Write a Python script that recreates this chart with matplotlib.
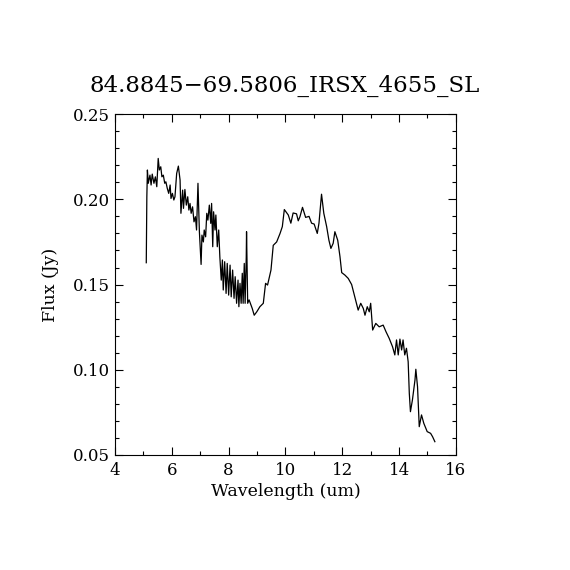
import numpy as np
import matplotlib
matplotlib.use("Agg")
import matplotlib.pyplot as plt
from matplotlib.ticker import MultipleLocator

# spectrum
wave = [5.10, 5.12, 5.14, 5.17, 5.23, 5.27, 5.31, 5.37, 5.42, 5.47,
        5.52, 5.56, 5.61, 5.65, 5.70, 5.75, 5.79, 5.84, 5.89, 5.94,
        5.97, 6.02, 6.07, 6.11, 6.17, 6.23, 6.29, 6.32, 6.38, 6.41,
        6.46, 6.51, 6.56, 6.60, 6.64, 6.68, 6.73, 6.78, 6.83, 6.87,
        6.92, 6.97, 7.03, 7.06, 7.11, 7.14, 7.19, 7.23, 7.27, 7.32,
        7.37, 7.40, 7.44, 7.47, 7.52, 7.55, 7.60, 7.65, 7.69, 7.74,
        7.78, 7.81, 7.86, 7.91, 7.95, 8.00, 8.05, 8.09, 8.14, 8.19,
        8.23, 8.28, 8.33, 8.36, 8.40, 8.44, 8.48, 8.51, 8.55, 8.58,
        8.62, 8.63, 8.67, 8.72, 8.83, 8.90, 8.99, 9.10, 9.22, 9.30,
        9.37, 9.49, 9.57, 9.69, 9.81, 9.89, 9.96, 10.10, 10.19, 10.27,
        10.39, 10.45, 10.51, 10.60, 10.71, 10.83, 10.92, 11.01, 11.12, 11.18,
        11.27, 11.35, 11.45, 11.53, 11.60, 11.68, 11.74, 11.84, 11.92, 11.98,
        12.09, 12.21, 12.33, 12.41, 12.50, 12.56, 12.65, 12.74, 12.80, 12.88,
        12.95, 13.00, 13.07, 13.18, 13.30, 13.44, 13.54, 13.65, 13.77, 13.85,
        13.91, 13.97, 14.03, 14.09, 14.14, 14.20, 14.26, 14.32, 14.36, 14.40,
        14.47, 14.56, 14.59, 14.65, 14.71, 14.79, 14.87, 14.99, 15.11, 15.18,
        15.26]
flux = [0.1628, 0.2015, 0.2172, 0.2094, 0.2142, 0.2084, 0.2148, 0.2094, 0.2132, 0.2074,
        0.2240, 0.2172, 0.2191, 0.2132, 0.2142, 0.2094, 0.2103, 0.2064, 0.2035, 0.2084,
        0.2005, 0.2035, 0.1996, 0.2015, 0.2152, 0.2195, 0.2113, 0.1918, 0.2054, 0.1947,
        0.2058, 0.1966, 0.2015, 0.1937, 0.1976, 0.1918, 0.1956, 0.1868, 0.1898, 0.1820,
        0.2094, 0.1810, 0.1618, 0.1790, 0.1750, 0.1820, 0.1780, 0.1918, 0.1878, 0.1966,
        0.1859, 0.1976, 0.1722, 0.1927, 0.1820, 0.1908, 0.1722, 0.1820, 0.1663, 0.1526,
        0.1644, 0.1468, 0.1634, 0.1448, 0.1624, 0.1438, 0.1614, 0.1428, 0.1585, 0.1419,
        0.1546, 0.1390, 0.1526, 0.1370, 0.1507, 0.1390, 0.1566, 0.1390, 0.1624, 0.1390,
        0.1663, 0.1810, 0.1390, 0.1410, 0.1360, 0.1320, 0.1340, 0.1370, 0.1390, 0.1507,
        0.1497, 0.1585, 0.1730, 0.1750, 0.1800, 0.1840, 0.1940, 0.1908, 0.1860, 0.1920,
        0.1915, 0.1874, 0.1898, 0.1953, 0.1894, 0.1900, 0.1860, 0.1855, 0.1800, 0.1860,
        0.2030, 0.1918, 0.1840, 0.1760, 0.1712, 0.1742, 0.1810, 0.1760, 0.1663, 0.1570,
        0.1556, 0.1536, 0.1500, 0.1448, 0.1390, 0.1350, 0.1390, 0.1360, 0.1320, 0.1370,
        0.1340, 0.1390, 0.1233, 0.1272, 0.1252, 0.1262, 0.1223, 0.1185, 0.1135, 0.1087,
        0.1175, 0.1087, 0.1180, 0.1116, 0.1175, 0.1087, 0.1126, 0.1047, 0.0862, 0.0754,
        0.0823, 0.0940, 0.1003, 0.0900, 0.0666, 0.0735, 0.0686, 0.0637, 0.0627, 0.0607,
        0.0578]

title = "84.8845\u221269.5806_IRSX_4655_SL"

plt.rcParams['font.family'] = ['DejaVu Serif']

fig = plt.figure(figsize=(5.7, 5.7), dpi=100)
ax = fig.add_axes([0.2018, 0.2018, 0.598, 0.598])
ax.plot(wave, flux, color='k', lw=0.9)

ax.set_xlim(4, 16)
ax.set_ylim(0.05, 0.25)
ax.xaxis.set_major_locator(MultipleLocator(2))
ax.xaxis.set_minor_locator(MultipleLocator(1))
ax.yaxis.set_major_locator(MultipleLocator(0.05))
ax.yaxis.set_minor_locator(MultipleLocator(0.01))
ax.yaxis.set_major_formatter(plt.FormatStrFormatter('%.2f'))
ax.tick_params(which='both', direction='in', top=True, right=True, labelsize=12, width=0.8)
ax.tick_params(which='major', length=6)
ax.tick_params(which='minor', length=3)
ax.tick_params(axis='x', pad=5)
for s in ax.spines.values():
    s.set_linewidth(0.8)

ax.set_xlabel('Wavelength (um)', fontsize=12.5, labelpad=3)
ax.set_ylabel('Flux (Jy)', fontsize=12.5, labelpad=10)
fig.text(0.5, 0.85, title, ha='center', va='center', fontsize=16.5)

fig.savefig('out.png', dpi=100)
